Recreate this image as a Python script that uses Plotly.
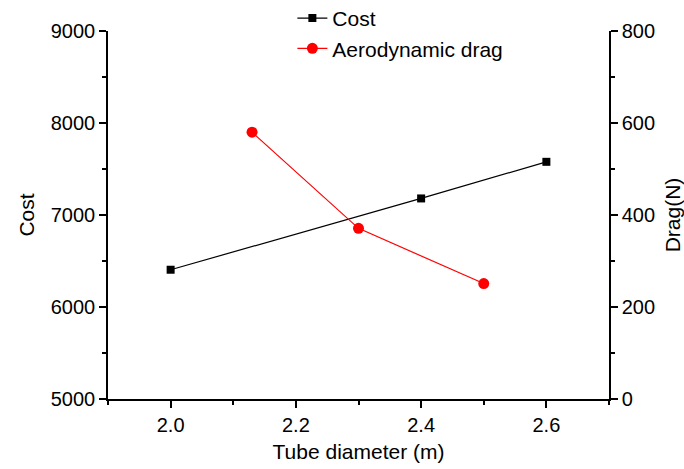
import plotly.graph_objects as go

# Tube diameter (m) vs. cost and aerodynamic drag
cost_diameter = [2.0, 2.4, 2.6]
cost_values = [6405, 7180, 7578]

drag_diameter = [2.13, 2.3, 2.5]
drag_values = [580, 371, 251]

FONT = "Liberation Sans, Arial, sans-serif"
AXIS_COLOR = "#000000"

fig = go.Figure()

fig.add_trace(go.Scatter(
    x=cost_diameter, y=cost_values, name="Cost",
    mode="lines+markers", legendgroup="cost",
    line=dict(color="#000000", width=1.2),
    marker=dict(symbol="square", size=8, color="#000000"),
    yaxis="y",
))

fig.add_trace(go.Scatter(
    x=drag_diameter, y=drag_values, name="Aerodynamic drag",
    mode="lines+markers", legendgroup="drag",
    line=dict(color="#FF0000", width=1.2),
    marker=dict(symbol="circle", size=11, color="#FF0000"),
    yaxis="y2",
))

common_axis = dict(
    showgrid=False, zeroline=False,
    showline=True, linecolor=AXIS_COLOR, linewidth=1.5,
    ticks="outside", ticklen=7, tickwidth=1.5, tickcolor=AXIS_COLOR,
    tickfont=dict(family=FONT, size=20, color="#000000"),
)

fig.update_layout(
    width=684, height=469,
    margin=dict(l=108, r=75, t=31, b=70, autoexpand=False),
    paper_bgcolor="white", plot_bgcolor="white",
    font=dict(family=FONT, size=20, color="#000000"),
    showlegend=True,
    legend=dict(
        x=0.368, y=1.09, xanchor="left", yanchor="top",
        bgcolor="rgba(0,0,0,0)", borderwidth=0,
        font=dict(family=FONT, size=21, color="#000000"),
        tracegroupgap=0, traceorder="grouped",
    ),
    xaxis=dict(
        **common_axis,
        range=[1.9, 2.7], tick0=2.0, dtick=0.2, tickformat=".1f",
        minor=dict(dtick=0.1, tick0=2.0, ticks="outside", ticklen=4,
                   tickwidth=1.5, tickcolor=AXIS_COLOR),
        title=dict(text="Tube diameter (m)", standoff=10,
                   font=dict(family=FONT, size=21)),
    ),
    yaxis=dict(
        **common_axis,
        range=[5000, 9000], tick0=5000, dtick=1000,
        minor=dict(dtick=500, tick0=5000, ticks="outside", ticklen=4,
                   tickwidth=1.5, tickcolor=AXIS_COLOR),
        title=dict(text="Cost", standoff=10,
                   font=dict(family=FONT, size=21)),
    ),
    yaxis2=dict(
        **common_axis,
        overlaying="y", side="right",
        range=[0, 800], tick0=0, dtick=200,
        minor=dict(dtick=100, tick0=0, ticks="outside", ticklen=4,
                   tickwidth=1.5, tickcolor=AXIS_COLOR),
        title=dict(text="Drag(N)", standoff=13,
                   font=dict(family=FONT, size=21)),
    ),
)

fig.write_html("out.html")
